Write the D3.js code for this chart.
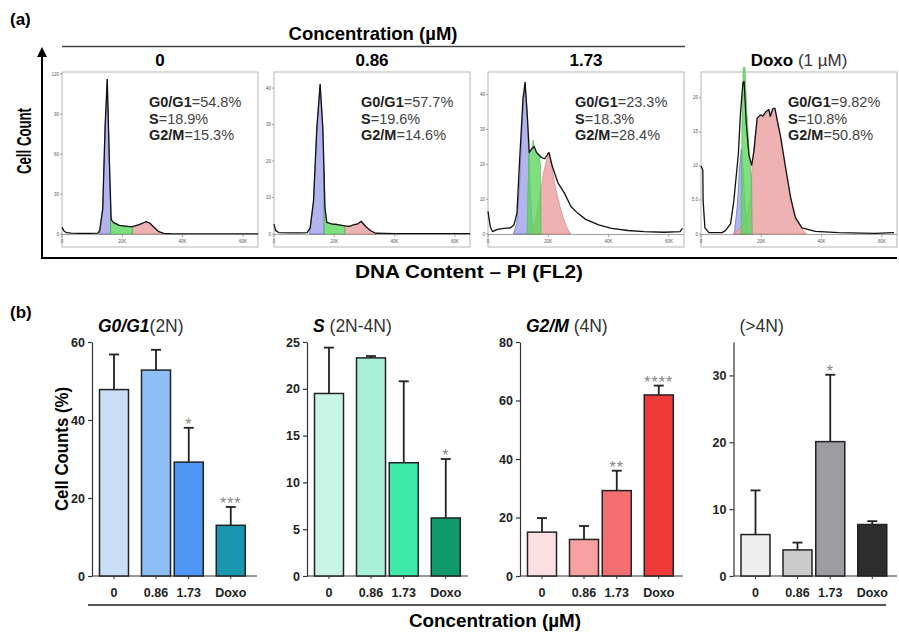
<!DOCTYPE html>
<html>
<head>
<meta charset="UTF-8">
<title>Cell cycle analysis</title>
<style>
  body { margin: 0; background: #fff; }
  text { font-family: "Liberation Sans", Arial, sans-serif; }
</style>
</head>
<body>
<script src="https://d3js.org/d3.v7.min.js"></script>
<script>
// ---------- data: panel (a) flow histograms, x in K (FL2), y = count ----------
var concLabels = ["0", "0.86", "1.73", "Doxo"];
var g1Pct = ["54.8%", "57.7%", "23.3%", "9.82%"];
var sPct = ["18.9%", "19.6%", "18.3%", "10.8%"];
var g2Pct = ["15.3%", "14.6%", "28.4%", "50.8%"];
var histXTicks = [0, 20, 40, 60];
var histXTickText = ["0", "20K", "40K", "60K"];
var histYTicks = [[0, 30, 60, 90, 120], [0, 10, 20, 30, 40], [0, 10, 20, 30, 40], [0, 5, 10, 15, 20]];
var histYTickText = [["0", "30", "60", "90", "120"], ["0", "10", "20", "30", "40"], ["0", "10", "20", "30", "40"], ["0", "5.0", "10", "15", "20"]];

var outline0 = [[0,5],[0.6,2.5],[1.5,1],[3,0.6],[6,0.5],[9,0.4],[11.9,0.6],[12.5,2.5],[13.5,18.7],[14.3,81],[15.0,116],[15.7,56],[16.3,11],[17,8.7],[19,6.5],[22.3,5.5],[23.4,5.5],[25.6,7],[27.8,9.2],[29,8.4],[30.5,5],[32.1,1.7],[33.8,0.4],[36,0.2],[45,0.1],[55,0.1],[65,0.1]];
var g1Fit0 = [[12.4,0],[12.5,2.5],[13.5,18.7],[14.3,81],[15.0,116],[15.7,56],[16.1,22],[16.1,0]];
var sFit0 = [[16.1,0],[16.1,22],[16.3,11],[17,8.7],[19,6.5],[22.3,5.5],[23.4,5.3],[23.4,0]];
var g2Fit0 = [[23,0],[23.4,5.3],[25.6,7],[27.8,9.2],[29,8.4],[30.5,5],[32.1,1.7],[33.8,0]];

var outline086 = [[0,2.7],[0.5,1],[1.5,0.4],[5,0.3],[9,0.3],[11,0.4],[12,1.7],[13.1,9],[14.2,29],[15.3,41],[16.2,29],[16.9,7.2],[17.5,3.2],[19,2.8],[21,2.6],[23.5,2.2],[25,2.1],[26.6,2.6],[27.8,2.8],[28.9,3.5],[30.5,2],[32.1,0.9],[33.7,0.2],[40,0.1],[50,0.1],[65,0.1]];
var g1Fit086 = [[11.8,0],[12,1.7],[13.1,9],[14.2,29],[15.3,41],[16.2,29],[16.6,17],[16.6,0]];
var sFit086 = [[16.6,0],[16.6,17],[16.9,7.2],[17.5,3.2],[19,2.8],[21,2.6],[23.5,2.2],[23.5,0]];
var g2Fit086 = [[23.3,0],[23.5,2.2],[25,2.1],[26.6,2.6],[27.8,2.8],[28.9,3.5],[30.5,2],[32.1,0.9],[33.7,0]];

var outline173 = [[0,6.5],[0.75,2.1],[1.5,0.7],[3.1,1.35],[5.3,1.6],[7.5,1.8],[8.6,2.6],[9.6,6],[10.5,21.4],[11.6,38.8],[12.3,43.5],[13.1,33],[13.7,23.4],[14.5,24.4],[15.3,25.1],[16.1,23.4],[17.8,21.9],[18.8,21.6],[20.2,23.4],[21.3,19.5],[23.2,14.7],[25.3,11.8],[27.5,7.9],[29.7,6],[32.4,4.2],[36.7,2.6],[41,1.6],[46.4,1],[51.8,0.7],[58.3,0.5],[63.7,0.7],[64.5,1.6]];
var g1Fit173 = [[8.4,0],[9.5,3],[10.5,15],[11.5,35],[12.3,43.5],[13.0,35],[13.6,21],[14.2,9],[14.9,0]];
var sFit173 = [[13.0,0],[13.3,14],[13.7,23.4],[14.5,24.4],[15.0,27],[15.3,25],[16.1,23.4],[17.0,22.5],[17.4,20],[17.6,0]];
var g2Fit173 = [[14,0],[15.5,3],[17,10],[18.5,18],[19.5,21.5],[20.2,23.4],[21,20.5],[22,15],[23,11],[24,7.5],[25,4.5],[26,2.2],[27,0.6],[27.5,0]];

var outlineDoxo = [[0,10],[0.6,9.4],[0.7,4.9],[1.3,0.9],[2.6,0.2],[7,0.2],[8.1,0.5],[9.8,1.5],[10.9,4.9],[12.4,11.8],[13.1,17.8],[13.9,22.2],[14.3,22.4],[15,16.3],[15.9,11.6],[16.8,10.1],[17.6,12.3],[18.6,17],[19.7,17.5],[20.5,17.3],[21.6,18],[22.5,18.3],[23,17.3],[23.8,18.4],[24.5,18.5],[25.3,16.7],[26.4,14.3],[28,9.9],[29.7,5.4],[31.3,2.4],[33.5,0.9],[37.9,0.4],[45.6,0.2],[57.6,0.1],[64,0.2]];
var g1FitDoxo = [[11,0],[12,4],[12.8,10],[13.4,12.5],[14,9],[14.8,3],[15.5,0]];
var sFitDoxo = [[13.3,0],[13.6,18],[14.0,24.5],[14.6,24.5],[15.2,18],[16.0,12],[16.8,8],[17.0,0]];
var g2FitDoxo = [[10.5,0],[13,0.8],[15,2],[16.2,5],[17,10],[17.8,14],[18.6,16.5],[19.7,17.3],[20.5,17],[21.6,17.8],[22.5,18.1],[23,17.2],[23.8,18.2],[24.5,18.3],[25.3,16.5],[26.4,14],[28,9.7],[29.7,5.3],[31.3,2.5],[33,1],[35,0]];

// ---------- data: panel (b) bar charts ----------
var barCats = ["0", "0.86", "1.73", "Doxo"];
var g1Mean = [47.8, 52.8, 29.2, 13.0];
var g1Sd = [9.0, 5.2, 8.8, 4.7];
var g1Sig = ["", "", "*", "***"];
var sMean = [19.5, 23.3, 12.1, 6.2];
var sSd = [4.9, 0.2, 8.7, 6.3];
var sSig = ["", "", "", "*"];
var g2Mean = [15.0, 12.5, 29.2, 61.9];
var g2Sd = [4.8, 4.6, 6.8, 3.2];
var g2Sig = ["", "", "**", "****"];
var polyMean = [6.2, 3.9, 20.1, 7.7];
var polySd = [6.6, 1.1, 10.0, 0.5];
var polySig = ["", "", "*", ""];

var width = 899, height = 634;
var svg = d3.select("body").append("svg")
    .attr("width", width)
    .attr("height", height);

// ================= panel (a) =================
svg.append("text").attr("x", 10).attr("y", 25)
    .attr("font-size", 17).attr("font-weight", "bold").text("(a)");

svg.append("text").attr("x", 373).attr("y", 40).attr("text-anchor", "middle")
    .attr("font-size", 18.5).attr("font-weight", "bold").text("Concentration (µM)");
svg.append("line").attr("x1", 62).attr("x2", 685).attr("y1", 46.5).attr("y2", 46.5)
    .attr("stroke", "#444").attr("stroke-width", 1.5);

// big L axis with arrow
svg.append("defs").append("marker")
    .attr("id", "arrow").attr("viewBox", "0 0 10 10").attr("refX", 5).attr("refY", 5)
    .attr("markerWidth", 5).attr("markerHeight", 5).attr("orient", "auto")
    .append("path").attr("d", "M0,0 L10,5 L0,10 z").attr("fill", "#000");
svg.append("line").attr("x1", 42).attr("x2", 42).attr("y1", 258).attr("y2", 52)
    .attr("stroke", "#000").attr("stroke-width", 2).attr("marker-end", "url(#arrow)");
svg.append("line").attr("x1", 41).attr("x2", 897).attr("y1", 258).attr("y2", 258)
    .attr("stroke", "#000").attr("stroke-width", 2);

svg.append("text")
    .attr("transform", "translate(31,141) rotate(-90)").attr("text-anchor", "middle")
    .attr("font-size", 19.5).attr("font-weight", "bold")
    .attr("textLength", 66).attr("lengthAdjust", "spacingAndGlyphs").text("Cell Count");
svg.append("text").attr("x", 469).attr("y", 278).attr("text-anchor", "middle")
    .attr("font-size", 18).attr("font-weight", "bold")
    .attr("textLength", 228).attr("lengthAdjust", "spacingAndGlyphs").text("DNA Content – PI (FL2)");

var histLeft = [62, 274, 488, 701];
var histW = 196;
var histTop = [121.5, 44.4, 46.5, 23.8];
var histSets = [
  [outline0, g1Fit0, sFit0, g2Fit0],
  [outline086, g1Fit086, sFit086, g2Fit086],
  [outline173, g1Fit173, sFit173, g2Fit173],
  [outlineDoxo, g1FitDoxo, sFitDoxo, g2FitDoxo]
];

histSets.forEach(function(set, i) {
  var x0 = histLeft[i];
  var x = d3.scaleLinear().domain([0, 65]).range([x0, x0 + histW]);
  var y = d3.scaleLinear().domain([0, histTop[i]]).range([234, 72]);
  var g = svg.append("g");

  // frame
  g.append("rect").attr("x", x0).attr("y", 72).attr("width", histW).attr("height", 175)
      .attr("fill", "none").attr("stroke", "#b5b5b5").attr("stroke-width", 1);

  // column title
  var t = g.append("text").attr("x", x0 + histW / 2).attr("y", 66)
      .attr("text-anchor", "middle").attr("font-size", 17);
  if (concLabels[i] == "Doxo") {
    t.append("tspan").attr("font-weight", "bold").text("Doxo");
    t.append("tspan").attr("fill", "#333").text(" (1 µM)");
  } else {
    t.attr("font-weight", "bold").text(concLabels[i]);
  }

  // fits: blue (G1), red (G2), green (S)
  var area = d3.area().x(function(d){ return x(d[0]); })
      .y0(y(0)).y1(function(d){ return y(d[1]); });
  g.append("path").datum(set[1]).attr("d", area)
      .attr("fill", "#a6a6ea").attr("fill-opacity", 0.85)
      .attr("stroke", "#5454b8").attr("stroke-width", 0.6);
  g.append("path").datum(set[3]).attr("d", area)
      .attr("fill", "#eba5a5").attr("fill-opacity", 0.85)
      .attr("stroke", "#c76a6a").attr("stroke-width", 0.5);
  g.append("path").datum(set[2]).attr("d", area)
      .attr("fill", "#5fd65f").attr("fill-opacity", 0.8)
      .attr("stroke", "#34b334").attr("stroke-width", 0.5);

  // histogram outline
  g.append("path").datum(set[0])
      .attr("d", d3.line().x(function(d){ return x(d[0]); }).y(function(d){ return y(d[1]); }))
      .attr("fill", "none").attr("stroke", "#111").attr("stroke-width", 1.3)
      .attr("stroke-linejoin", "round");

  // axes
  g.append("line").attr("x1", x0).attr("x2", x0 + histW).attr("y1", 234.5).attr("y2", 234.5)
      .attr("stroke", "#666").attr("stroke-width", 0.6);
  histXTicks.forEach(function(v, k) {
    g.append("line").attr("x1", x(v)).attr("x2", x(v)).attr("y1", 234.5).attr("y2", 237)
        .attr("stroke", "#666").attr("stroke-width", 0.6);
    g.append("text").attr("x", x(v)).attr("y", 243).attr("text-anchor", "middle")
        .attr("font-size", 4.5).attr("fill", "#555").text(histXTickText[k]);
  });
  histYTicks[i].forEach(function(v, k) {
    g.append("line").attr("x1", x0 - 2).attr("x2", x0).attr("y1", y(v)).attr("y2", y(v))
        .attr("stroke", "#666").attr("stroke-width", 0.6);
    g.append("text").attr("x", x0 - 3).attr("y", y(v) + 1.5).attr("text-anchor", "end")
        .attr("font-size", 4.5).attr("fill", "#555").text(histYTickText[i][k]);
  });

  // phase percentages
  var rows = [["G0/G1", g1Pct[i]], ["S", sPct[i]], ["G2/M", g2Pct[i]]];
  rows.forEach(function(r, k) {
    var tt = g.append("text").attr("x", x0 + 87).attr("y", 107 + k * 16.5)
        .attr("font-size", 14.5).attr("fill", "#222");
    tt.append("tspan").attr("font-weight", "bold").text(r[0]);
    tt.append("tspan").attr("fill", "#444").text("=" + r[1]);
  });
});

// ================= panel (b) =================
svg.append("text").attr("x", 10).attr("y", 318)
    .attr("font-size", 17).attr("font-weight", "bold").text("(b)");

svg.append("text")
    .attr("transform", "translate(68,449) rotate(-90)").attr("text-anchor", "middle")
    .attr("font-size", 18).attr("font-weight", "bold")
    .attr("textLength", 124).attr("lengthAdjust", "spacingAndGlyphs").text("Cell Counts (%)");

var chartLeft = [92, 307, 520, 733.5];
var chartRight = [257, 468, 683, 897];
var chartMax = [60, 25, 80, 35];
var chartTicks = [[0, 20, 40, 60], [0, 5, 10, 15, 20, 25], [0, 20, 40, 60, 80], [0, 10, 20, 30]];
var slotOf = [0, 1, 1.78, 2.78];  // spacing of the four bars
var barW = 29;
var charts = [
  { mean: g1Mean, sd: g1Sd, sig: g1Sig, colors: ["#c9ddf6", "#8fbdf5", "#4f97f4", "#1a96ae"], title: ["G0/G1", "(2N)"] },
  { mean: sMean, sd: sSd, sig: sSig, colors: ["#c9f5e6", "#a9f0d8", "#3eeaa9", "#10996a"], title: ["S", " (2N-4N)"] },
  { mean: g2Mean, sd: g2Sd, sig: g2Sig, colors: ["#fde0e3", "#f9a1a2", "#f56e72", "#f03a3a"], title: ["G2/M", " (4N)"] },
  { mean: polyMean, sd: polySd, sig: polySig, colors: ["#eeeeee", "#cbcbcb", "#9c9ca1", "#2e2e2e"], title: ["", "(>4N)"] }
];

charts.forEach(function(c, i) {
  var left = chartLeft[i];
  var slot = d3.scaleLinear().domain([0, 1]).range([left + 22, left + 64]);
  var xPos = function(k){ return slot(slotOf[k]); };
  var y = d3.scaleLinear().domain([0, chartMax[i]]).range([576, 342]);
  var g = svg.append("g");

  // title
  var t = g.append("text").attr("x", left + 6).attr("y", 332).attr("font-size", 17.5);
  if (c.title[0]) t.append("tspan").attr("font-weight", "bold").attr("font-style", "italic").text(c.title[0]);
  t.append("tspan").attr("fill", "#333").text(c.title[1]);

  // y axis
  var yAxis = d3.axisLeft(y).tickValues(chartTicks[i]).tickSize(4).tickSizeOuter(0);
  var ya = g.append("g").attr("transform", "translate(" + left + ",0)").call(yAxis);
  ya.select(".domain").attr("stroke", "#333").attr("stroke-width", 1.2);
  ya.selectAll(".tick line").attr("stroke", "#333").attr("stroke-width", 1.2);
  ya.selectAll(".tick text").attr("font-size", 12.5).attr("font-weight", "bold")
      .attr("font-family", "Liberation Sans, Arial, sans-serif").attr("fill", "#222");

  // x axis line
  g.append("line").attr("x1", left).attr("x2", chartRight[i]).attr("y1", 576).attr("y2", 576)
      .attr("stroke", "#333").attr("stroke-width", 1.2);

  barCats.forEach(function(cat, k) {
    var cx = xPos(k);
    // error bar (upper only)
    var top = y(c.mean[k] + c.sd[k]);
    g.append("line").attr("x1", cx).attr("x2", cx).attr("y1", y(c.mean[k])).attr("y2", top)
        .attr("stroke", "#222").attr("stroke-width", 1.8);
    g.append("line").attr("x1", cx - 5).attr("x2", cx + 5).attr("y1", top).attr("y2", top)
        .attr("stroke", "#222").attr("stroke-width", 1.8);
    // bar
    g.append("rect").attr("x", cx - barW / 2).attr("y", y(c.mean[k]))
        .attr("width", barW).attr("height", y(0) - y(c.mean[k]))
        .attr("fill", c.colors[k]).attr("stroke", "#222").attr("stroke-width", 1.5);
    // tick + label
    g.append("line").attr("x1", cx).attr("x2", cx).attr("y1", 576).attr("y2", 579)
        .attr("stroke", "#333").attr("stroke-width", 1);
    g.append("text").attr("x", cx).attr("y", 597).attr("text-anchor", "middle")
        .attr("font-size", 12.5).attr("font-weight", "bold").attr("fill", "#222").text(cat);
    // significance
    if (c.sig[k]) {
      g.append("text").attr("x", cx).attr("y", top + 2).attr("text-anchor", "middle")
          .attr("font-size", 16).attr("letter-spacing", 1).attr("fill", "#888").text(c.sig[k]);
    }
  });
});

svg.append("line").attr("x1", 88).attr("x2", 886).attr("y1", 605).attr("y2", 605)
    .attr("stroke", "#555").attr("stroke-width", 2);
svg.append("text").attr("x", 495).attr("y", 627).attr("text-anchor", "middle")
    .attr("font-size", 18.5).attr("font-weight", "bold")
    .attr("textLength", 172).attr("lengthAdjust", "spacingAndGlyphs").text("Concentration (µM)");
</script>
</body>
</html>
